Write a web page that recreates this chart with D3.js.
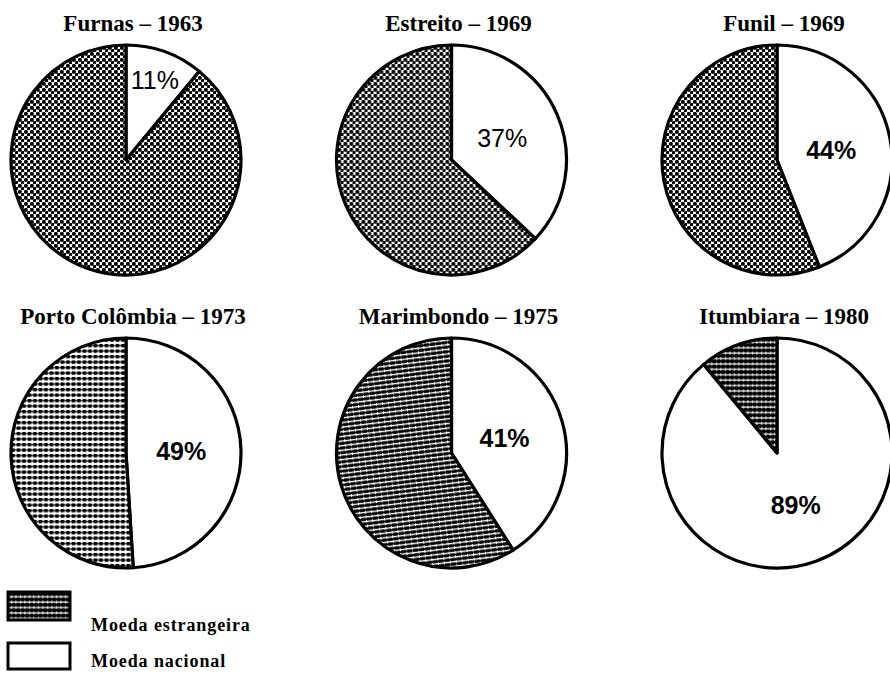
<!DOCTYPE html>
<html>
<head>
<meta charset="utf-8">
<script src="https://cdn.jsdelivr.net/npm/d3@7"></script>
<style>
  body { margin: 0; background: #fff; }
  svg { display: block; }
  .title { font-family: "Liberation Serif", "Times New Roman", serif; font-weight: bold; font-size: 23px; }
  .pct { font-family: "Liberation Sans", Arial, sans-serif; font-size: 25px; }
  .legend-text { font-family: "Liberation Serif", "Times New Roman", serif; font-weight: bold; font-size: 18px; letter-spacing: 0.9px; }
</style>
</head>
<body>
<div id="chart"></div>
<script>
// data
const plants = ["Furnas", "Estreito", "Funil", "Porto Colômbia", "Marimbondo", "Itumbiara"];
const years = [1963, 1969, 1969, 1973, 1975, 1980];
const nacional = [11, 37, 44, 49, 41, 89];
const estrangeira = [89, 63, 56, 51, 59, 11];
const legendLabels = ["Moeda estrangeira", "Moeda nacional"];

// styling per pie (hatch used for the foreign share)
const hatch = ["dots", "dots", "dots", "rows", "lines", "bars"];
const boldPct = [false, false, true, true, true, true];

const width = 890, height = 676;
const radius = 115;

const svg = d3.select("#chart").append("svg")
    .attr("width", width)
    .attr("height", height);

const defs = svg.append("defs");

// diagonal dot screen
const pDots = defs.append("pattern")
    .attr("id", "dots")
    .attr("patternUnits", "userSpaceOnUse")
    .attr("width", 6).attr("height", 6);
pDots.append("rect").attr("width", 6).attr("height", 6).attr("fill", "#fff");
pDots.append("rect").attr("x", 0).attr("y", 0).attr("width", 3.7).attr("height", 3.7).attr("rx", 1.2).attr("fill", "#000");
pDots.append("rect").attr("x", 3).attr("y", 3).attr("width", 3.7).attr("height", 3.7).attr("rx", 1.2).attr("fill", "#000");

// rows of dashes on white
const pRows = defs.append("pattern")
    .attr("id", "rows")
    .attr("patternUnits", "userSpaceOnUse")
    .attr("width", 5.5).attr("height", 5.5);
pRows.append("rect").attr("width", 5.5).attr("height", 5.5).attr("fill", "#fff");
pRows.append("rect").attr("x", 0).attr("y", 2.1).attr("width", 5.5).attr("height", 1).attr("fill", "#000");
pRows.append("rect").attr("x", 0.5).attr("y", 1).attr("width", 3.9).attr("height", 3.3).attr("rx", 0.8).attr("fill", "#000");

// white slanted lines on black
const pLines = defs.append("pattern")
    .attr("id", "lines")
    .attr("patternUnits", "userSpaceOnUse")
    .attr("patternTransform", "rotate(-7)")
    .attr("width", 6).attr("height", 4.6);
pLines.append("rect").attr("width", 6).attr("height", 4.6).attr("fill", "#000");
pLines.append("rect").attr("x", 0).attr("y", 1.7).attr("width", 6).attr("height", 1.4).attr("fill", "#fff");
pLines.append("rect").attr("x", 3).attr("y", 1).attr("width", 1).attr("height", 2.8).attr("fill", "#fff");

// thin white lines with ticks on black
const pBars = defs.append("pattern")
    .attr("id", "bars")
    .attr("patternUnits", "userSpaceOnUse")
    .attr("width", 4.5).attr("height", 5.4);
pBars.append("rect").attr("width", 4.5).attr("height", 5.4).attr("fill", "#000");
pBars.append("rect").attr("x", 0).attr("y", 2.2).attr("width", 4.5).attr("height", 1.1).attr("fill", "#fff");
pBars.append("rect").attr("x", 2).attr("y", 1.2).attr("width", 1).attr("height", 3).attr("fill", "#fff");

const xCol = d3.scalePoint().domain([0, 1, 2]).range([126, 777]);
const yRow = d3.scalePoint().domain([0, 1]).range([160, 453]);

const pie = d3.pie().sort(null).value(d => d.v);
const arc = d3.arc().innerRadius(0).outerRadius(radius);

plants.forEach((name, i) => {
    const cx = xCol(i % 3);
    const cy = yRow(Math.floor(i / 3));
    const slices = pie([
        { key: "nacional", v: nacional[i] },
        { key: "estrangeira", v: estrangeira[i] }
    ]);

    const g = svg.append("g").attr("transform", `translate(${cx},${cy})`);

    g.selectAll("path")
        .data(slices)
        .join("path")
        .attr("d", arc)
        .attr("fill", d => d.data.key === "nacional" ? "#fff" : `url(#${hatch[i]})`)
        .attr("stroke", "#000")
        .attr("stroke-width", 3.2)
        .attr("stroke-linejoin", "round");

    // label for the national share
    const share = nacional[i] / 100;
    const lr = share < 0.2 ? radius * 0.74 : radius * 0.48;
    const labelArc = d3.arc().innerRadius(lr).outerRadius(lr);
    const pos = labelArc.centroid(slices[0]);
    g.append("text")
        .attr("class", "pct")
        .attr("x", pos[0])
        .attr("y", pos[1])
        .attr("dy", "0.36em")
        .attr("text-anchor", "middle")
        .attr("font-weight", boldPct[i] ? "bold" : "normal")
        .text(`${nacional[i]}%`);

    svg.append("text")
        .attr("class", "title")
        .attr("x", cx + 7)
        .attr("y", cy - 129)
        .attr("text-anchor", "middle")
        .text(`${name} – ${years[i]}`);
});

// legend
const boxTop = [592, 643];
const textBase = [631, 667];
legendLabels.forEach((label, i) => {
    svg.append("rect")
        .attr("x", 8)
        .attr("y", boxTop[i])
        .attr("width", 62)
        .attr("height", i === 0 ? 28 : 26)
        .attr("fill", i === 0 ? "url(#bars)" : "#fff")
        .attr("stroke", "#000")
        .attr("stroke-width", 3);
    svg.append("text")
        .attr("class", "legend-text")
        .attr("x", 91)
        .attr("y", textBase[i])
        .text(label);
});
</script>
</body>
</html>
